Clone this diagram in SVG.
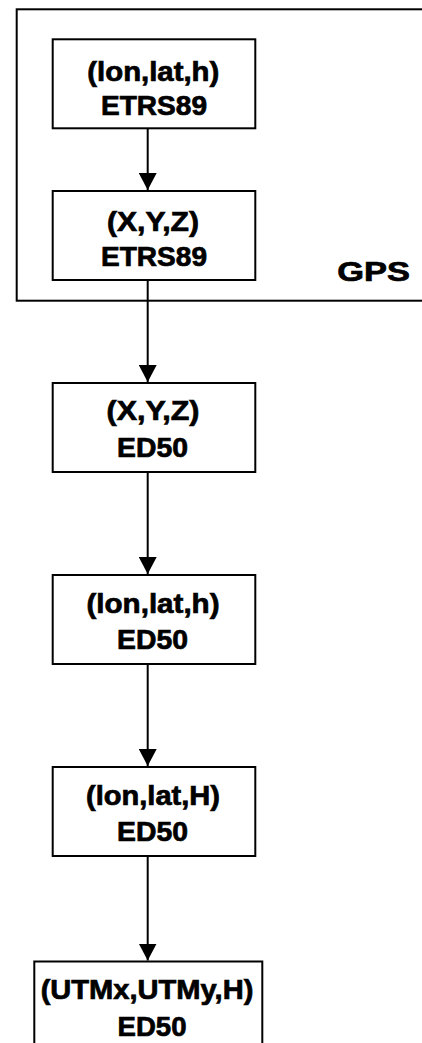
<svg xmlns="http://www.w3.org/2000/svg" width="422" height="1043" viewBox="0 0 422 1043">
<style>
.box{fill:#fff;stroke:#000;stroke-width:2}
.frame{fill:none;stroke:#000;stroke-width:2}
.t{font-family:"Liberation Sans",Arial,sans-serif;font-weight:bold;font-size:27px;fill:#000;stroke:#000;stroke-width:0.7;text-anchor:middle}
.c{stroke:#000;stroke-width:2;fill:none;marker-end:url(#ah)}
</style>
<defs>
<marker id="ah" viewBox="0 0 17 18" refX="17" refY="9" markerWidth="17" markerHeight="18" markerUnits="userSpaceOnUse" orient="auto">
<path d="M0,0 L17,9 L0,18 z" fill="#000"/>
</marker>
</defs>
<rect x="0" y="0" width="422" height="1043" fill="#fff"/>
<g id="gps">
<rect class="frame" x="16.7" y="9.3" width="420" height="291.4"/>
<text class="t" x="373.6" y="280.5" textLength="72.7" lengthAdjust="spacingAndGlyphs">GPS</text>
</g>
<g id="connectors">
<line class="c" x1="147.7" y1="129" x2="147.7" y2="190"/>
<line class="c" x1="147.7" y1="281" x2="147.7" y2="382"/>
<line class="c" x1="147.7" y1="473" x2="147.7" y2="574"/>
<line class="c" x1="147.7" y1="665" x2="147.7" y2="766"/>
<line class="c" x1="147.7" y1="857" x2="147.7" y2="960.5"/>
</g>
<g id="n1">
<rect class="box" x="52.7" y="39.3" width="202.6" height="89"/>
<text class="t" x="153.3" y="80.5" textLength="132" lengthAdjust="spacingAndGlyphs">(lon,lat,h)</text>
<text class="t" x="154" y="115" textLength="106" lengthAdjust="spacingAndGlyphs">ETRS89</text>
</g>
<g id="n2">
<rect class="box" x="52.7" y="191" width="202.6" height="89"/>
<text class="t" x="153" y="231" textLength="92" lengthAdjust="spacingAndGlyphs">(X,Y,Z)</text>
<text class="t" x="154" y="266" textLength="106" lengthAdjust="spacingAndGlyphs">ETRS89</text>
</g>
<g id="n3">
<rect class="box" x="52.7" y="383" width="202.6" height="89"/>
<text class="t" x="153" y="420" textLength="93" lengthAdjust="spacingAndGlyphs">(X,Y,Z)</text>
<text class="t" x="152.5" y="457" textLength="71" lengthAdjust="spacingAndGlyphs">ED50</text>
</g>
<g id="n4">
<rect class="box" x="52.7" y="575" width="202.6" height="89"/>
<text class="t" x="153" y="612.5" textLength="133" lengthAdjust="spacingAndGlyphs">(lon,lat,h)</text>
<text class="t" x="152.5" y="649" textLength="71" lengthAdjust="spacingAndGlyphs">ED50</text>
</g>
<g id="n5">
<rect class="box" x="52.7" y="767" width="202.6" height="89"/>
<text class="t" x="153" y="804.5" textLength="134" lengthAdjust="spacingAndGlyphs">(lon,lat,H)</text>
<text class="t" x="152.5" y="841" textLength="71" lengthAdjust="spacingAndGlyphs">ED50</text>
</g>
<g id="n6">
<rect class="box" x="34.3" y="961.5" width="228" height="89"/>
<text class="t" x="147" y="999" textLength="212.7" lengthAdjust="spacingAndGlyphs">(UTMx,UTMy,H)</text>
<text class="t" x="152" y="1036" textLength="69" lengthAdjust="spacingAndGlyphs">ED50</text>
</g>
</svg>
